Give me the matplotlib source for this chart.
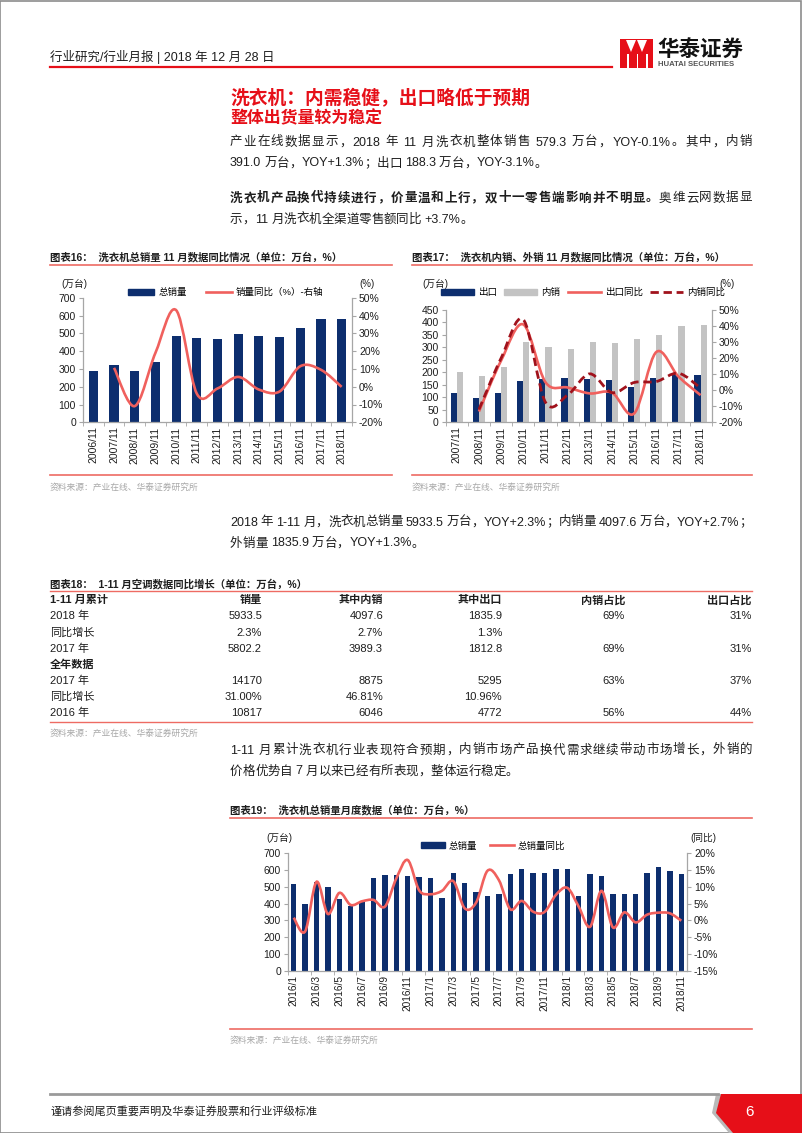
import re
import numpy as np
import matplotlib
matplotlib.use('Agg')
import matplotlib.pyplot as plt
from matplotlib.path import Path
from matplotlib.patches import PathPatch, Rectangle, Polygon
from matplotlib.lines import Line2D

plt.rcParams['font.family'] = ['Liberation Sans', 'Noto Sans CJK SC', 'DejaVu Sans']
plt.rcParams['axes.unicode_minus'] = False

# ---- data ----
years16 = ['2006/11', '2007/11', '2008/11', '2009/11', '2010/11', '2011/11', '2012/11',
           '2013/11', '2014/11', '2015/11', '2016/11', '2017/11', '2018/11']
total16 = [290, 322, 287, 341, 487, 476, 470, 496, 487, 477, 530, 582, 579.3]
yoy16 = [np.nan, 10.6, -10.9, 19.0, 43.0, -3.9, -1.0, 5.5, -1.6, -2.7, 11.5, 9.5, -0.1]

years17 = years16[1:]
export17 = [116, 99, 116, 164, 174, 176, 172, 168, 143, 178, 194, 188.3]
domestic17 = [203, 187, 222, 320, 300, 292, 323, 318, 334, 351, 386, 391.0]
export_yoy17 = [np.nan, -13.3, 18.5, 41.0, 5.0, 1.7, -2.0, -1.5, -14.5, 23.8, 8.5, -3.1]
domestic_yoy17 = [np.nan, -12.0, 20.0, 44.0, -7.5, -3.0, 10.2, -1.5, 4.8, 5.4, 10.6, 1.3]

months19 = ['2016/%d' % m for m in range(1, 13)] + ['2017/%d' % m for m in range(1, 13)] + \
           ['2018/%d' % m for m in range(1, 12)]
total19 = [515, 396, 527, 501, 425, 388, 408, 555, 573, 569, 565, 559,
           555, 431, 580, 521, 467, 445, 459, 575, 604, 583, 580, 604,
           606, 443, 575, 567, 457, 457, 457, 583, 620, 594, 579.3]
yoy19 = [0.8, -3.3, 11.5, 1.9, 8.2, 4.6, 5.7, 6.1, 4.1, 12.5, 18.0, 9.0,
         7.8, 8.8, 11.7, 3.6, 5.3, 14.8, 12.0, 3.3, 5.8, 2.6, 2.5, 7.6,
         9.7, 4.1, -1.9, 8.8, -2.1, 2.4, -0.6, 1.7, 2.3, 2.1, -0.1]

tbl_head = ['1-11 月累计', '销量', '其中内销', '其中出口', '内销占比', '出口占比']
tbl_rows = ['2018 年', '同比增长', '2017 年', '全年数据', '2017 年', '同比增长', '2016 年']
tbl_sales = ['5933.5', '2.3%', '5802.2', '', '14170', '31.00%', '10817']
tbl_dom = ['4097.6', '2.7%', '3989.3', '', '8875', '46.81%', '6046']
tbl_exp = ['1835.9', '1.3%', '1812.8', '', '5295', '10.96%', '4772']
tbl_dom_share = ['69%', '', '69%', '', '63%', '', '56%']
tbl_exp_share = ['31%', '', '31%', '', '37%', '', '44%']

# ---- style ----
W, H = 802, 1133
NAVY = '#0d2e6e'
SALMON = '#f0605d'
DARKRED = '#a0121c'
LGRAY = '#c3c3c3'
RED = '#e60f18'
LINE = '#ee6b63'
AX = '#a6a6a6'
INK = '#1e1e1e'
SRC = '#a8a8a8'

fig = plt.figure(figsize=(W / 100, H / 100), dpi=100)
renderer = fig.canvas.get_renderer()


def fx(x):
    return x / W


def fy(y):
    return 1 - y / H


def txt(x, y, s, size=9, color=INK, weight='normal', ha='left', va='center', **kw):
    return fig.text(fx(x), fy(y), s, fontsize=size, color=color, fontweight=weight,
                    ha=ha, va=va, **kw)


def hline(x0, x1, y, color=LINE, lw=1.2):
    fig.add_artist(Line2D([fx(x0), fx(x1)], [fy(y), fy(y)], color=color, lw=lw))


def jline(x0, y, runs, size=9, x1=None, color=INK):
    # one line of text, optionally justified between x0 and x1
    px = size * 100 / 72
    items = []
    for s, wt in runs:
        for m in re.finditer(r'[!-~]+| |[^!-~ ]', s):
            tok = m.group()
            if tok == ' ':
                items.append((None, px * 0.25))
            else:
                t = fig.text(0, fy(y + px * 0.36), tok, fontsize=size, fontweight=wt,
                             color=color, va='baseline', ha='left')
                items.append((t, t.get_window_extent(renderer=renderer).width))
    total = sum(w for _, w in items)
    gap = 0
    if x1 is not None and len(items) > 1:
        gap = (x1 - x0 - total) / (len(items) - 1)
    x = x0
    for t, w in items:
        if t is not None:
            t.set_x(fx(x))
        x += w + gap


def smooth(ax, xs, ys, **kw):
    pts = np.array([(x, y) for x, y in zip(xs, ys) if not np.isnan(y)])
    verts, codes = [pts[0]], [Path.MOVETO]
    n = len(pts)
    for i in range(n - 1):
        p0 = pts[i - 1] if i > 0 else pts[i]
        p1, p2 = pts[i], pts[i + 1]
        p3 = pts[i + 2] if i + 2 < n else pts[i + 1]
        verts += [p1 + (p2 - p0) / 6, p2 - (p3 - p1) / 6, p2]
        codes += [Path.CURVE4] * 3
    ax.add_patch(PathPatch(Path(verts, codes), fill=False, capstyle='butt', **kw))


def new_axes(l, r, t, b):
    ax = fig.add_axes([fx(l), fy(b), fx(r - l), (b - t) / H])
    ax2 = ax.twinx()
    for a in (ax, ax2):
        a.set_facecolor('none')
        a.spines['top'].set_visible(False)
        for s in ('left', 'right', 'bottom'):
            a.spines[s].set_color(AX)
            a.spines[s].set_linewidth(0.9)
        a.tick_params(axis='y', direction='out', length=3, color=AX, labelsize=7.5,
                      pad=2, labelcolor=INK)
    ax.spines['right'].set_visible(False)
    ax2.spines['left'].set_visible(False)
    ax2.spines['bottom'].set_visible(False)
    return ax, ax2


def xaxis(ax, labels, step=1, size=7.5):
    n = len(labels)
    ax.set_xlim(-0.5, n - 0.5)
    ax.set_xticks(range(0, n, step))
    ax.set_xticklabels(labels[::step], rotation=90, fontsize=size, color=INK)
    ax.tick_params(axis='x', which='major', length=0, pad=3)
    ax.set_xticks(np.arange(-0.5, n, step), minor=True)
    ax.tick_params(axis='x', which='minor', length=3, color=AX, direction='out')


pct = matplotlib.ticker.FuncFormatter(lambda v, p: '%d%%' % v)

# ---- page frame, header ----
fig.add_artist(Rectangle((0.0006, 0.0004), 0.9985, 0.9988, transform=fig.transFigure,
                         fill=False, ec='#8c8c8c', lw=1.2))
txt(50, 57, '行业研究/行业月报 | 2018 年 12 月 28 日', size=9)
hline(50, 612, 67, color=RED, lw=1.6)
fig.add_artist(Rectangle((fx(620), fy(68)), fx(33), 29 / H, color=RED, lw=0))
fig.add_artist(Polygon([(fx(626), fy(40)), (fx(636), fy(40)), (fx(631), fy(52))],
                       closed=True, color='white', lw=0))
fig.add_artist(Polygon([(fx(637), fy(40)), (fx(647), fy(40)), (fx(642), fy(52))],
                       closed=True, color='white', lw=0))
for xx in (627, 636.5, 646):
    fig.add_artist(Rectangle((fx(xx), fy(68)), 1.6 / W, 14 / H, color='white', lw=0))
txt(657, 50, '华泰证券', size=15.5, weight='heavy', color='#111')
txt(658, 65, 'HUATAI SECURITIES', size=5.6, weight='bold', color='#555')

# ---- section text ----
txt(230, 98, '洗衣机：内需稳健，出口略低于预期', size=13.5, weight='bold', color=RED)
txt(230, 118, '整体出货量较为稳定', size=12.2, weight='bold', color=RED)
jline(230, 141, [('产业在线数据显示，2018 年 11 月洗衣机整体销售 579.3 万台，YOY-0.1%。其中，内销', 'normal')], x1=752)
jline(230, 162, [('391.0 万台，YOY+1.3%；出口 188.3 万台，YOY-3.1%。', 'normal')])
jline(230, 197, [('洗衣机产品换代持续进行，价量温和上行，双十一零售端影响并不明显。', 'bold'),
                 ('奥维云网数据显', 'normal')], x1=752)
jline(230, 218, [('示，11 月洗衣机全渠道零售额同比 +3.7%。', 'normal')])

# ---- chart 16 ----
txt(50, 257, '图表16：  洗衣机总销量 11 月数据同比情况（单位：万台，%）', size=7.5, weight='bold')
hline(50, 392, 265)
ax, ax2 = new_axes(83, 352, 297.7, 422.3)
x16 = np.arange(len(years16))
ax.bar(x16, total16, width=0.44, color=NAVY)
ax.set_ylim(0, 700)
ax.set_yticks(range(0, 701, 100))
xaxis(ax, years16)
smooth(ax2, x16, yoy16, ec=SALMON, lw=1.9)
ax2.set_ylim(-20, 50)
ax2.set_yticks(range(-20, 51, 10))
ax2.yaxis.set_major_formatter(pct)
txt(74, 284, '(万台)', size=7, ha='center')
txt(367, 284, '(%)', size=7, ha='center')
fig.legend([Rectangle((0, 0), 1, 1, color=NAVY), Line2D([], [], color=SALMON, lw=1.9)],
           ['总销量', '销量同比（%）-右轴'], loc='center left',
           bbox_to_anchor=(fx(128), fy(292.7)), ncol=2, frameon=False, fontsize=6.8,
           handlelength=2.8, handleheight=0.65, handletextpad=0.4, columnspacing=2.0,
           borderpad=0, borderaxespad=0)
hline(50, 392, 475)
txt(50, 487, '资料来源：产业在线、华泰证券研究所', size=6.3, color=SRC)

# ---- chart 17 ----
txt(412, 257, '图表17：  洗衣机内销、外销 11 月数据同比情况（单位：万台，%）', size=7.5, weight='bold')
hline(412, 752, 265)
ax, ax2 = new_axes(445.7, 711.7, 310, 422.3)
x17 = np.arange(len(years17))
ax.bar(x17 - 0.14, export17, width=0.28, color=NAVY)
ax.bar(x17 + 0.14, domestic17, width=0.28, color=LGRAY)
ax.set_ylim(0, 450)
ax.set_yticks(range(0, 451, 50))
xaxis(ax, years17)
smooth(ax2, x17, export_yoy17, ec=SALMON, lw=1.9)
smooth(ax2, x17, domestic_yoy17, ec=DARKRED, lw=2.0, ls=(0, (3, 1.7)))
ax2.set_ylim(-20, 50)
ax2.set_yticks(range(-20, 51, 10))
ax2.yaxis.set_major_formatter(pct)
txt(435, 284, '(万台)', size=7, ha='center')
txt(727, 284, '(%)', size=7, ha='center')
fig.legend([Rectangle((0, 0), 1, 1, color=NAVY), Rectangle((0, 0), 1, 1, color=LGRAY),
            Line2D([], [], color=SALMON, lw=1.9),
            Line2D([], [], color=DARKRED, lw=2.0, ls=(0, (3, 1.7)))],
           ['出口', '内销', '出口同比', '内销同比'], loc='center left',
           bbox_to_anchor=(fx(441), fy(292.7)), ncol=4, frameon=False, fontsize=6.8,
           handlelength=3.5, handleheight=0.65, handletextpad=0.4, columnspacing=0.8,
           borderpad=0, borderaxespad=0)
hline(412, 752, 475)
txt(412, 487, '资料来源：产业在线、华泰证券研究所', size=6.3, color=SRC)

# ---- paragraph + table 18 ----
jline(230, 521, [('2018 年 1-11 月，洗衣机总销量 5933.5 万台，YOY+2.3%；内销量 4097.6 万台，YOY+2.7%；', 'normal')], x1=752)
jline(230, 542, [('外销量 1835.9 万台，YOY+1.3%。', 'normal')])

txt(50, 584, '图表18：  1-11 月空调数据同比增长（单位：万台，%）', size=7.5, weight='bold')
hline(50, 752, 591, lw=1.0)
col_right = [262, 383, 502, 625, 752]
txt(50, 600, tbl_head[0], size=8, weight='bold')
for xr, h in zip(col_right, tbl_head[1:]):
    txt(xr, 600, h, size=8, weight='bold', ha='right')
row_y = [616, 632.5, 648.5, 664.5, 680.5, 696.5, 712.5]
for i, yy in enumerate(row_y):
    txt(50, yy, tbl_rows[i], size=8, weight='bold' if tbl_rows[i] == '全年数据' else 'normal')
    for xr, col in zip(col_right, [tbl_sales, tbl_dom, tbl_exp, tbl_dom_share, tbl_exp_share]):
        if col[i]:
            txt(xr, yy, col[i], size=8, ha='right')
hline(50, 752, 721.5, lw=1.0)
txt(50, 733, '资料来源：产业在线、华泰证券研究所', size=6.3, color=SRC)

jline(230, 749, [('1-11 月累计洗衣机行业表现符合预期，内销市场产品换代需求继续带动市场增长，外销的', 'normal')], x1=752)
jline(230, 770, [('价格优势自 7 月以来已经有所表现，整体运行稳定。', 'normal')])

# ---- chart 19 ----
txt(230, 810, '图表19：  洗衣机总销量月度数据（单位：万台，%）', size=7.5, weight='bold')
hline(230, 752, 818)
ax, ax2 = new_axes(288, 687, 853.3, 970.7)
x19 = np.arange(len(months19))
ax.bar(x19, total19, width=0.46, color=NAVY)
ax.set_ylim(0, 700)
ax.set_yticks(range(0, 701, 100))
xaxis(ax, months19, step=2, size=7.3)
smooth(ax2, x19, yoy19, ec=SALMON, lw=1.9)
ax2.set_ylim(-15, 20)
ax2.set_yticks(range(-15, 21, 5))
ax2.yaxis.set_major_formatter(pct)
txt(279, 838, '(万台)', size=7, ha='center')
txt(703, 838, '(同比)', size=7, ha='center')
fig.legend([Rectangle((0, 0), 1, 1, color=NAVY), Line2D([], [], color=SALMON, lw=1.9)],
           ['总销量', '总销量同比'], loc='center left',
           bbox_to_anchor=(fx(421), fy(846)), ncol=2, frameon=False, fontsize=6.8,
           handlelength=2.5, handleheight=0.65, handletextpad=0.4, columnspacing=1.4,
           borderpad=0, borderaxespad=0)
hline(230, 752, 1028.5)
txt(230, 1040, '资料来源：产业在线、华泰证券研究所', size=6.3, color=SRC)

# ---- footer ----
hline(50, 718, 1094, color='#9a9a9a', lw=2)
fig.add_artist(Polygon([(fx(716), fy(1094)), (fx(802), fy(1094)), (fx(802), fy(1133)),
                        (fx(729), fy(1133)), (fx(712), fy(1113))],
                       closed=True, color='#b9b9b9', lw=0))
fig.add_artist(Polygon([(fx(721), fy(1094)), (fx(802), fy(1094)), (fx(802), fy(1133)),
                        (fx(733), fy(1133)), (fx(716), fy(1113))],
                       closed=True, color=RED, lw=0))
txt(50, 1112, '谨请参阅尾页重要声明及华泰证券股票和行业评级标准', size=8)
txt(749, 1112, '6', size=11, color='white', ha='center')

fig.savefig('out.png', dpi=100)
